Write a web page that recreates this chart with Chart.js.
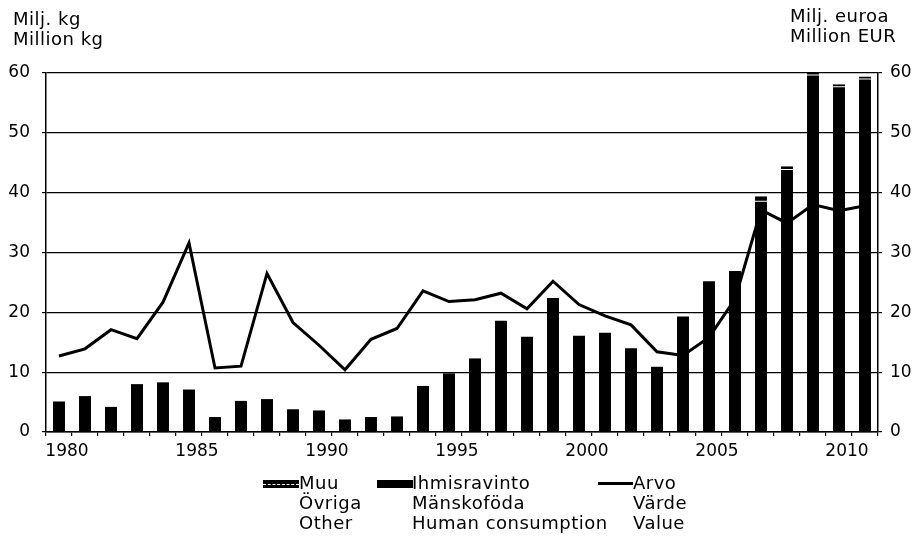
<!DOCTYPE html>
<html>
<head>
<meta charset="utf-8">
<script src="https://cdn.jsdelivr.net/npm/chart.js@4.4.1/dist/chart.umd.min.js"></script>
<style>
  html, body { margin: 0; padding: 0; background: #fff; }
  #wrap { position: relative; width: 919px; height: 549px; overflow: hidden; }
  canvas { position: absolute; left: 0; top: 0; }
  .txt { position: absolute; font-family: "DejaVu Sans", sans-serif; font-size: 18px; color: #000; letter-spacing: 0.5px; white-space: nowrap; }
  .title { line-height: 20px; }
  .leg { line-height: 20px; }
  .sw { position: absolute; background: #000; }
</style>
</head>
<body>
<div id="wrap">
  <canvas id="c" width="919" height="549"></canvas>
  <div class="txt title" style="left:13px;top:9px">Milj. kg<br>Million kg</div>
  <div class="txt title" style="left:790px;top:6px">Milj. euroa<br>Million EUR</div>

  <div class="sw" style="left:263px;top:480px;width:36px;height:8px"></div>
  <div style="position:absolute;left:263px;top:483.5px;width:36px;height:0;border-top:1px dashed #fff"></div>
  <div class="txt leg" style="left:299px;top:473px">Muu<br>Övriga<br>Other</div>

  <div class="sw" style="left:377px;top:480px;width:36px;height:8px"></div>
  <div class="txt leg" style="left:412px;top:473px">Ihmisravinto<br>Mänskoföda<br>Human consumption</div>

  <div class="sw" style="left:598px;top:482px;width:35px;height:3px"></div>
  <div class="txt leg" style="left:633px;top:473px">Arvo<br>Värde<br>Value</div>
</div>
<script>
// ---- data ----
const years = ['1980','1981','1982','1983','1984','1985','1986','1987','1988','1989',
               '1990','1991','1992','1993','1994','1995','1996','1997','1998','1999',
               '2000','2001','2002','2003','2004','2005','2006','2007','2008','2009',
               '2010','2011'];
const xTickLabels = ['1980','1985','1990','1995','2000','2005','2010'];
// Human consumption (Ihmisravinto), million kg
const ihmisravinto = [5.1, 6.0, 4.2, 8.0, 8.3, 7.1, 2.5, 5.2, 5.5, 3.8,
                      3.6, 2.1, 2.5, 2.6, 7.7, 9.8, 12.3, 18.6, 15.9, 22.4,
                      16.1, 16.6, 14.0, 10.9, 19.3, 25.2, 26.9, 38.5, 43.8, 59.6,
                      57.6, 58.9];
// Other (Muu), million kg
const muu = [null, null, null, null, null, null, null, null, null, null,
             null, null, null, null, null, null, null, null, null, null,
             null, null, null, null, null, null, null, 0.9, 0.6, 0.4,
             0.5, 0.5];
// Value (Arvo), million EUR
const arvo = [12.7, 13.9, 17.1, 15.6, 21.7, 31.6, 10.7, 11.0, 26.5, 18.3,
              14.5, 10.4, 15.5, 17.3, 23.6, 21.8, 22.1, 23.2, 20.6, 25.2,
              21.3, 19.4, 17.9, 13.4, 12.8, 15.8, 22.2, 37.1, 34.9, 38.0,
              37.0, 37.8];
const yTicks = [0, 10, 20, 30, 40, 50, 60];

Chart.defaults.font.family = '"DejaVu Sans", sans-serif';
Chart.defaults.color = '#000';

const tickFont = { size: 17 };
function yAxis(pos, onChart, pad, width) {
  return {
    type: 'linear',
    position: pos,
    min: yTicks[0],
    max: yTicks[yTicks.length - 1],
    stacked: pos === 'left',
    afterBuildTicks: s => { s.ticks = yTicks.map(v => ({ value: v })); },
    afterFit: s => { s.width = width; },
    ticks: { font: tickFont, color: '#000', padding: pad },
    grid: { color: '#000', lineWidth: 1.2, drawOnChartArea: onChart, drawTicks: true, tickLength: 4, tickColor: '#000' },
    border: { display: true, color: '#000', width: 1.5 }
  };
}

new Chart(document.getElementById('c'), {
  data: {
    labels: years,
    datasets: [
      { type: 'line', label: 'Arvo', data: arvo, yAxisID: 'y1', order: 0,
        borderColor: '#000', borderWidth: 3, pointRadius: 0, tension: 0, fill: false },
      { type: 'bar', label: 'Ihmisravinto', data: ihmisravinto, yAxisID: 'y', stack: 's', order: 1,
        backgroundColor: '#000', borderWidth: 0, barPercentage: 0.46, categoryPercentage: 1 },
      { type: 'bar', label: 'Muu', data: muu, yAxisID: 'y', stack: 's', order: 1,
        backgroundColor: '#000', borderColor: '#fff', borderSkipped: false,
        borderWidth: { top: 0, left: 0, right: 0, bottom: 1 },
        barPercentage: 0.46, categoryPercentage: 1 }
    ]
  },
  options: {
    responsive: false,
    animation: false,
    devicePixelRatio: 1,
    layout: { padding: { top: 73, bottom: 81, left: 0, right: 0 } },
    plugins: { legend: { display: false }, tooltip: { enabled: false }, title: { display: false } },
    scales: {
      x: {
        type: 'category',
        stacked: true,
        offset: true,
        afterFit: s => { s.height = 36; },
        ticks: {
          font: tickFont, color: '#000', autoSkip: false, maxRotation: 0, minRotation: 0,
          padding: 5, labelOffset: 8,
          callback: function (v) { const l = this.getLabelForValue(v); return xTickLabels.includes(l) ? l : ''; }
        },
        grid: { display: true, offset: true, drawOnChartArea: false, drawTicks: true, tickLength: 4, color: '#000', lineWidth: 1.2 },
        border: { display: true, color: '#000', width: 1.5 }
      },
      y: yAxis('left', true, 12, 46),
      y1: yAxis('right', false, 8, 41)
    }
  }
});
</script>
</body>
</html>
